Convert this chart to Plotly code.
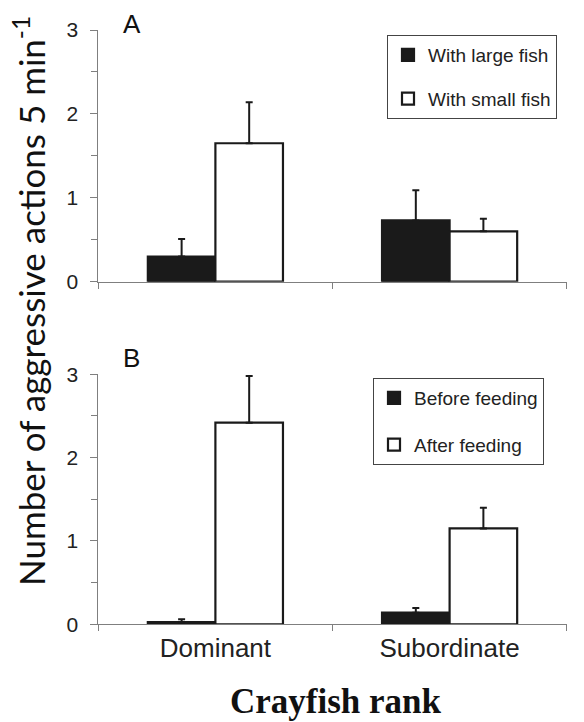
import plotly.graph_objects as go

# ---- data ----
categories = ["Dominant", "Subordinate"]

a_large = [0.30, 0.73]
a_large_err = [0.21, 0.36]
a_small = [1.65, 0.60]
a_small_err = [0.49, 0.15]

b_before = [0.025, 0.14]
b_before_err = [0.035, 0.055]
b_after = [2.42, 1.15]
b_after_err = [0.56, 0.25]

y_ticks = [0, 1, 2, 3]

W, H = 584, 722
BLACK = "#1a1a1a"
AXIS = "#7f7f7f"


def bar(name, y, err, fill, xa, ya, leg):
    return go.Bar(
        x=categories, y=y, name=name, xaxis=xa, yaxis=ya, legend=leg,
        legendgroup=name,
        marker=dict(color=fill, line=dict(color=BLACK, width=2.2)),
        error_y=dict(type="data", array=err, arrayminus=[0] * len(err),
                     symmetric=False, color=BLACK, thickness=2, width=3.5),
    )


fig = go.Figure()
fig.add_trace(bar("With large fish", a_large, a_large_err, BLACK, "x", "y", "legend"))
fig.add_trace(bar("With small fish", a_small, a_small_err, "white", "x", "y", "legend"))
fig.add_trace(bar("Before feeding", b_before, b_before_err, BLACK, "x2", "y2", "legend2"))
fig.add_trace(bar("After feeding", b_after, b_after_err, "white", "x2", "y2", "legend2"))

xdom = [98.3 / W, 566.7 / W]
ydomA = [1 - 281.7 / H, 1 - 30 / H]
ydomB = [1 - 624.3 / H, 1 - 374.3 / H]

tickfont = dict(family="Liberation Sans, Arial", size=21, color="#222")

common_x = dict(type="category", range=[-0.5, 1.5], tickson="boundaries",
                ticks="outside", ticklen=6, tickcolor=AXIS, showline=True,
                linecolor=AXIS, linewidth=1, showgrid=False, zeroline=False,
                fixedrange=True, automargin=False)
common_y = dict(range=[0, 3], tickvals=y_ticks, ticks="outside", ticklen=7,
                tickcolor=AXIS, showline=True, linecolor=AXIS, linewidth=1,
                showgrid=False, zeroline=False, tickfont=tickfont,
                ticklabelstandoff=8, automargin=False, fixedrange=True,
                minor=dict(dtick=0.5, ticks="outside", ticklen=6, tickcolor=AXIS,
                           showgrid=False))

fig.update_layout(
    width=W, height=H,
    margin=dict(l=0, r=0, t=0, b=0, autoexpand=False),
    paper_bgcolor="white", plot_bgcolor="white",
    barmode="group", bargap=0.423, bargroupgap=0,
    xaxis=dict(domain=xdom, anchor="y", showticklabels=False, **common_x),
    yaxis=dict(domain=ydomA, anchor="x", **common_y),
    xaxis2=dict(domain=xdom, anchor="y2", showticklabels=True,
                tickfont=dict(family="Liberation Sans, Arial", size=26, color="#222"),
                **common_x),
    yaxis2=dict(domain=ydomB, anchor="x2", **common_y),
    legend=dict(x=387 / W, y=1 - 35 / H, xanchor="left", yanchor="top",
                bordercolor="#444", borderwidth=1, bgcolor="white",
                font=dict(family="Liberation Sans, Arial", size=19, color="#222"),
                traceorder="grouped", tracegroupgap=16, itemwidth=30),
    legend2=dict(x=373 / W, y=1 - 378 / H, xanchor="left", yanchor="top",
                 bordercolor="#444", borderwidth=1, bgcolor="white",
                 font=dict(family="Liberation Sans, Arial", size=19, color="#222"),
                 traceorder="grouped", tracegroupgap=19, itemwidth=30),
    showlegend=True,
    annotations=[
        dict(text="A", x=131.7 / W, y=1 - 24 / H, xref="paper", yref="paper",
             showarrow=False, xanchor="center", yanchor="middle",
             font=dict(family="Liberation Sans, Arial", size=26, color="#111")),
        dict(text="B", x=131.7 / W, y=1 - 358 / H, xref="paper", yref="paper",
             showarrow=False, xanchor="center", yanchor="middle",
             font=dict(family="Liberation Sans, Arial", size=26, color="#111")),
        dict(text="Number of aggressive actions 5 min<sup>-1</sup>",
             x=29 / W, y=1 - 301 / H, xref="paper", yref="paper",
             showarrow=False, textangle=-90, xanchor="center", yanchor="middle",
             font=dict(family="Lato, Open Sans", size=35, color="#111")),
        dict(text="<b>Crayfish rank</b>", x=336 / W, y=1 - 701 / H,
             xref="paper", yref="paper", showarrow=False,
             xanchor="center", yanchor="middle",
             font=dict(family="Liberation Serif, Times New Roman", size=35,
                       color="#111")),
    ],
)

fig.write_html(
    "out.html",
    config={"displayModeBar": False},
    post_script="document.body.style.margin='0';document.body.style.overflow='hidden';",
)
